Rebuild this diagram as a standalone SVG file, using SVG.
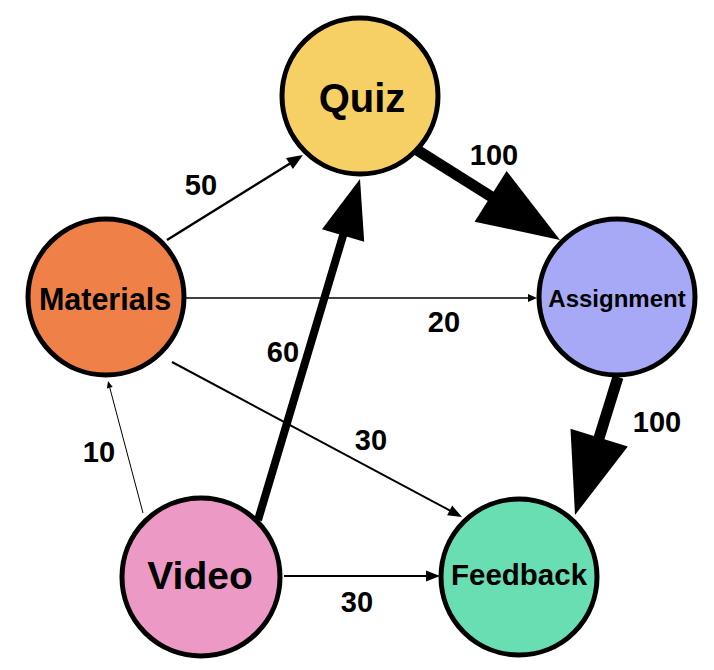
<svg xmlns="http://www.w3.org/2000/svg" width="714" height="670" viewBox="0 0 714 670">
<style>
.node circle{stroke:#000;stroke-width:5}
.node text{font-family:"Liberation Sans",Arial,sans-serif;font-weight:bold;text-anchor:middle;fill:#000}
.edge line{stroke:#000;fill:none}
.edge polygon{fill:#000}
.lbl{font-family:"Liberation Sans",Arial,sans-serif;font-weight:bold;font-size:29px;text-anchor:middle;fill:#000}
</style>
<rect width="714" height="670" fill="#fff"/>
<g id="connectors">
  <g class="edge" id="e-materials-quiz">
    <line x1="167" y1="240" x2="290" y2="163.5" stroke-width="2.5"/>
    <polygon points="303,155 292.9,169 286,158"/>
  </g>
  <g class="edge" id="e-quiz-assignment">
    <line x1="417" y1="150" x2="492" y2="197.2" stroke-width="11"/>
    <polygon points="560,240 474.6,221.7 506.6,170.9"/>
  </g>
  <g class="edge" id="e-materials-assignment">
    <line x1="185" y1="298" x2="529" y2="298" stroke-width="1.5"/>
    <polygon points="537,298 528,294 528,302"/>
  </g>
  <g class="edge" id="e-materials-feedback">
    <line x1="172" y1="362" x2="450.5" y2="510.8" stroke-width="2"/>
    <polygon points="462,517 447.1,515.3 452.2,505.6"/>
  </g>
  <g class="edge" id="e-video-materials">
    <line x1="143" y1="513" x2="109.8" y2="387.8" stroke-width="1"/>
    <polygon points="108,381 112.7,387 106.9,388.5"/>
  </g>
  <g class="edge" id="e-video-quiz">
    <line x1="258" y1="520" x2="343.5" y2="234" stroke-width="8"/>
    <polygon points="360,179 364.2,241.8 322,229.2"/>
  </g>
  <g class="edge" id="e-video-feedback">
    <line x1="284" y1="576" x2="427" y2="576" stroke-width="2"/>
    <polygon points="440,576 426,570.5 426,581.5"/>
  </g>
  <g class="edge" id="e-assignment-feedback">
    <line x1="618" y1="377" x2="598.7" y2="439" stroke-width="11"/>
    <polygon points="575,515 627.8,446.5 570.5,428.7"/>
  </g>
  <text class="lbl" x="201" y="195">50</text>
  <text class="lbl" x="494" y="165">100</text>
  <text class="lbl" x="444" y="332">20</text>
  <text class="lbl" x="371" y="450">30</text>
  <text class="lbl" x="283" y="362">60</text>
  <text class="lbl" x="99" y="462">10</text>
  <text class="lbl" x="357" y="612">30</text>
  <text class="lbl" x="657" y="432">100</text>
</g>
<g class="node" id="quiz">
  <circle cx="360" cy="96" r="78" fill="#f7d065"/>
  <text x="362" y="112" font-size="40">Quiz</text>
</g>
<g class="node" id="materials">
  <circle cx="106" cy="297" r="78" fill="#ee8048"/>
  <text x="105" y="310" font-size="30.5">Materials</text>
</g>
<g class="node" id="assignment">
  <circle cx="617" cy="297" r="78" fill="#a7a9f7"/>
  <text x="617" y="307" font-size="24">Assignment</text>
</g>
<g class="node" id="video">
  <circle cx="201" cy="577" r="79" fill="#ed99c5"/>
  <text x="200" y="589" font-size="39">Video</text>
</g>
<g class="node" id="feedback">
  <circle cx="519" cy="577" r="78" fill="#69deb3"/>
  <text x="519" y="585" font-size="29.5">Feedback</text>
</g>
</svg>
